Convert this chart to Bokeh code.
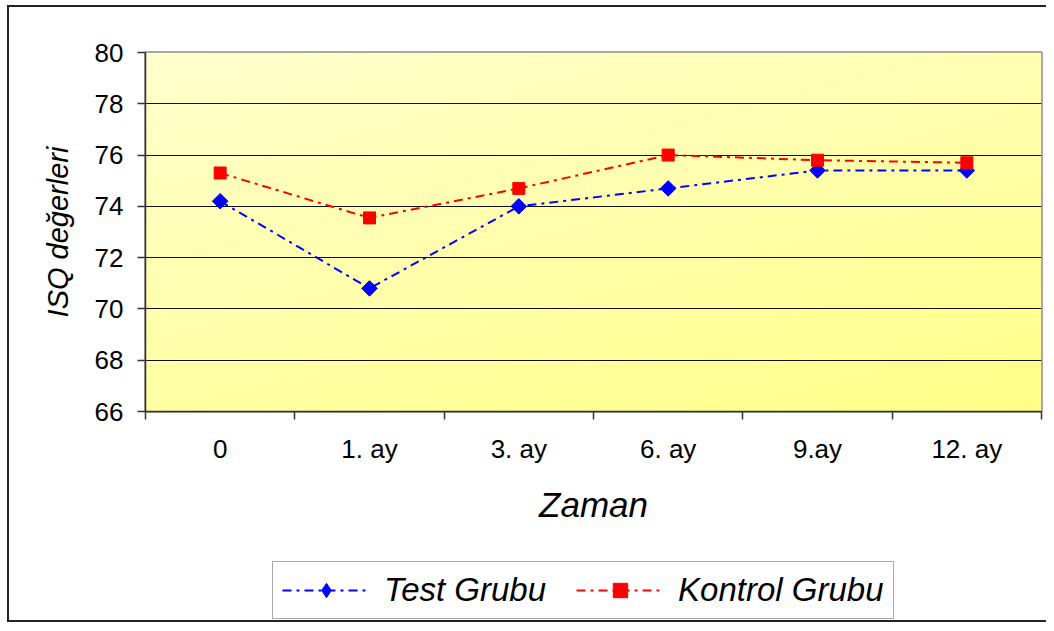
import numpy as np
from bokeh.plotting import figure
from bokeh.layouts import column
from bokeh.models import FixedTicker, Legend, LegendItem, Range1d
from bokeh.embed import file_html
from bokeh.resources import INLINE

categories = ["0", "1. ay", "3. ay", "6. ay", "9.ay", "12. ay"]
test_grubu = [74.2, 70.8, 74.0, 74.7, 75.4, 75.4]
kontrol_grubu = [75.3, 73.55, 74.7, 76.0, 75.8, 75.7]
y_ticks = [66, 68, 70, 72, 74, 76, 78, 80]

FONT = "Liberation Sans"
W = 1046
H_PLOT, H_LEG = 540, 83

xs = list(range(len(categories)))
x0, x1 = -0.5, len(categories) - 0.5
y0, y1 = y_ticks[0], y_ticks[-1]

p = figure(width=W, height=H_PLOT, output_backend="svg", toolbar_location=None,
           x_range=Range1d(x0, x1), y_range=Range1d(y0, y1),
           min_border_left=145, min_border_top=52, min_border_right=5,
           min_border_bottom=129)
p.border_fill_color = None

# gradient background of the plot area
ny, nx = 90, 160
yy, xx = np.mgrid[0:1:ny * 1j, 0:1:nx * 1j]
t = 0.6 * (1 - yy) + 0.4 * xx
blue = (206 - t * (206 - 136)).astype(np.uint8)
img = np.empty((ny, nx), dtype=np.uint32)
view = img.view(dtype=np.uint8).reshape((ny, nx, 4))
view[..., 0] = 255
view[..., 1] = 255
view[..., 2] = blue
view[..., 3] = 255
p.image_rgba(image=[img], x=x0, y=y0, dw=x1 - x0, dh=y1 - y0, level="image")

dash = "9 5 3 5"
blue_c, red_c = "#0000FF", "#FF0000"
p.line(xs, test_grubu, line_color=blue_c, line_width=2, line_dash=dash)
p.scatter(xs, test_grubu, marker="square", angle=np.pi / 4, size=11,
          fill_color=blue_c, line_color=blue_c)
p.line(xs, kontrol_grubu, line_color=red_c, line_width=2, line_dash=dash)
p.scatter(xs, kontrol_grubu, marker="square", size=12,
          fill_color=red_c, line_color=red_c)

# axes
p.xaxis.ticker = FixedTicker(ticks=xs, minor_ticks=[i - 0.5 for i in range(len(categories) + 1)])
p.xaxis.major_label_overrides = {i: c for i, c in enumerate(categories)}
p.xaxis.major_tick_line_color = None
p.xaxis.major_tick_out = 8
p.xaxis.major_tick_in = 0
p.xaxis.minor_tick_out = 8
p.xaxis.minor_tick_in = 0
p.xaxis.minor_tick_line_color = "#333333"
p.xaxis.minor_tick_line_width = 1.5
p.xaxis.major_label_standoff = 14
p.xaxis.axis_label = "Zaman"
p.xaxis.axis_label_standoff = 18
p.xaxis.axis_label_text_font_size = "35px"

p.yaxis.ticker = FixedTicker(ticks=y_ticks)
p.yaxis.major_tick_out = 8
p.yaxis.major_tick_in = 0
p.yaxis.minor_tick_line_color = None
p.yaxis.major_tick_line_color = "#333333"
p.yaxis.major_tick_line_width = 1.5
p.yaxis.major_label_standoff = 14
p.yaxis.axis_label = "ISQ değerleri"
p.yaxis.axis_label_standoff = 18
p.yaxis.axis_label_text_font_size = "29px"

for ax in (p.xaxis, p.yaxis):
    ax.axis_line_color = "#333333"
    ax.axis_line_width = 1.5
    ax.major_label_text_font = FONT
    ax.major_label_text_font_size = "26px"
    ax.major_label_text_color = "black"
    ax.axis_label_text_font = FONT
    ax.axis_label_text_font_style = "italic"
    ax.axis_label_text_color = "black"

p.xgrid.grid_line_color = None
p.ygrid.grid_line_color = "#111111"
p.ygrid.grid_line_width = 1

p.outline_line_color = "#8c8c8c"
p.outline_line_width = 2.5
p.background_fill_color = "#FFFFCC"

# legend strip: same series, drawn outside its own visible range, so only the legend shows
n = len(categories)
q = figure(width=W, height=H_LEG, output_backend="svg", toolbar_location=None,
           x_range=Range1d(n + 10, n + 11), y_range=Range1d(0, 1),
           x_axis_location=None, y_axis_location=None,
           min_border_left=0, min_border_right=0, min_border_top=0, min_border_bottom=0)
q.grid.visible = False
q.outline_line_color = None
q.background_fill_color = None
q.border_fill_color = None
ql1 = q.line(xs, test_grubu, line_color=blue_c, line_width=2, line_dash=dash)
qd1 = q.scatter(xs, test_grubu, marker="diamond", size=14,
                fill_color=blue_c, line_color=blue_c)
ql2 = q.line(xs, kontrol_grubu, line_color=red_c, line_width=2, line_dash=dash)
qs2 = q.scatter(xs, kontrol_grubu, marker="square", size=12,
                fill_color=red_c, line_color=red_c)

legend = Legend(items=[LegendItem(label="Test Grubu", renderers=[ql1, qd1]),
                       LegendItem(label="Kontrol Grubu", renderers=[ql2, qs2])],
                orientation="horizontal", location=(127, 4),
                glyph_width=88, glyph_height=36, label_standoff=14, spacing=30,
                padding=9, margin=0,
                label_text_font=FONT, label_text_font_size="33px",
                label_text_font_style="italic", label_text_color="black",
                border_line_color="#555555", border_line_width=1.5,
                background_fill_color="white")
q.add_layout(legend, "center")

layout = column(p, q, spacing=0)
line = "linear-gradient(#222,#222)"
layout.styles = {"background": (f"{line} 7px 5px/2px 616px no-repeat, "
                                f"{line} 7px 5px/1100px 2px no-repeat, "
                                f"{line} 7px 620px/1100px 2px no-repeat, white")}

open("out.html", "w").write(file_html(layout, INLINE))
